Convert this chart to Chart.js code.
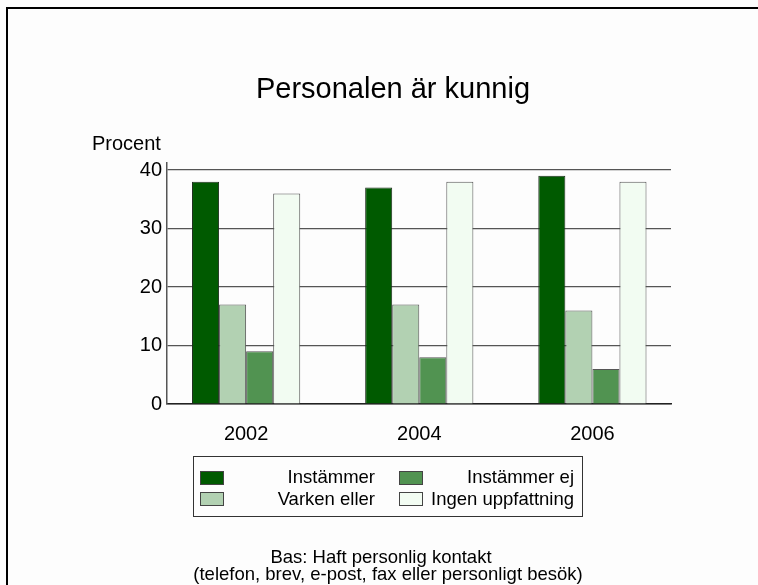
<!DOCTYPE html>
<html>
<head>
  <title>Personalen är kunnig</title>
  <script src="https://cdn.jsdelivr.net/npm/chart.js"></script>
  <style>
    body { margin: 0; padding: 0; background: #fdfdfd; }
    #wrap { width: 758px; height: 585px; position: relative; }
  </style>
</head>
<body>
  <div id="wrap"><canvas id="myChart" width="758" height="585"></canvas></div>
  <script>
    // --- DATA ---
    const years = [2002, 2004, 2006];
    const seriesNames = ['Instämmer', 'Varken eller', 'Instämmer ej', 'Ingen uppfattning'];
    const instammer    = [38, 37, 39];
    const varkenEller  = [17, 17, 16];
    const instammerEj  = [9, 8, 6];
    const ingenUppf    = [36, 38, 38];
    const yTicks = [0, 10, 20, 30, 40];

    const titleText = 'Personalen är kunnig';
    const yAxisTitle = 'Procent';
    const footerLines = ['Bas: Haft personlig kontakt', '(telefon, brev, e-post, fax eller personligt besök)'];

    // fill colours per series
    const fills = ['#005a00', '#b2d1b2', '#519351', '#f2fcf2'];
    const font = '"Liberation Sans", Arial, sans-serif';

    // extra drawing: frame, title, axis title, legend, footer
    const decor = {
      id: 'decor',
      beforeDraw(chart) {
        const c = chart.ctx;
        c.save();
        c.fillStyle = '#fdfdfd';
        c.fillRect(0, 0, chart.width, chart.height);
        c.strokeStyle = '#000';
        c.lineWidth = 2;
        c.beginPath();
        c.moveTo(7, chart.height);
        c.lineTo(7, 8);
        c.lineTo(chart.width, 8);
        c.stroke();
        c.restore();
      },
      afterDraw(chart) {
        const c = chart.ctx;
        c.save();
        c.fillStyle = '#000';
        c.textBaseline = 'alphabetic';

        // title
        c.font = '29px ' + font;
        c.textAlign = 'center';
        c.fillText(titleText, 393, 98);

        // y axis title
        c.font = '20px ' + font;
        c.textAlign = 'left';
        c.fillText(yAxisTitle, 92, 150);

        // legend box
        c.strokeStyle = '#333';
        c.lineWidth = 1;
        c.strokeRect(193.5, 456.5, 389, 60);
        c.font = '18.5px ' + font;
        c.textAlign = 'right';
        const colX = [200, 399];
        const textRight = [375, 574];
        const rowY = [471, 492];
        const baseY = [483, 505];
        chart.data.datasets.forEach((ds, i) => {
          const col = Math.floor(i / 2), row = i % 2;
          c.fillStyle = ds.backgroundColor;
          c.fillRect(colX[col], rowY[row], 23, 13);
          c.strokeStyle = '#444';
          c.strokeRect(colX[col] + 0.5, rowY[row] + 0.5, 23, 13);
          c.fillStyle = '#000';
          c.fillText(ds.label, textRight[col], baseY[row]);
        });

        // footer
        c.textAlign = 'center';
        c.font = '18.5px ' + font;
        c.fillText(footerLines[0], 381, 563);
        c.fillText(footerLines[1], 388, 580);
        c.restore();
      }
    };

    const ctx = document.getElementById('myChart').getContext('2d');
    const chart = new Chart(ctx, {
      type: 'bar',
      data: {
        labels: years,
        datasets: [instammer, varkenEller, instammerEj, ingenUppf].map((arr, i) => ({
          label: seriesNames[i],
          data: arr,
          backgroundColor: fills[i],
          borderColor: i === 0 ? '#1e2e1e' : '#555',
          borderWidth: 1,
          borderSkipped: 'bottom',
          categoryPercentage: 0.625,
          barPercentage: 1
        }))
      },
      options: {
        responsive: false,
        animation: false,
        layout: { padding: { top: 163, right: 87, left: 0, bottom: 0 } },
        plugins: {
          legend: { display: false },
          tooltip: { enabled: false },
          title: { display: false }
        },
        scales: {
          x: {
            type: 'linear',
            offset: false,
            min: 2001.086,
            max: 2006.908,
            afterFit(scale) { scale.height = 181; },
            afterBuildTicks(scale) { scale.ticks = years.map(v => ({ value: v })); },
            ticks: {
              color: '#000',
              font: { family: font, size: 20 },
              padding: 18,
              callback: v => String(v)
            },
            grid: { display: false, drawTicks: false },
            border: { display: true, color: '#222', width: 1.5 }
          },
          y: {
            min: 0,
            max: 41.2,
            afterFit(scale) { scale.width = 167; },
            afterBuildTicks(scale) { scale.ticks = yTicks.map(v => ({ value: v })); },
            ticks: {
              color: '#000',
              font: { family: font, size: 20 },
              padding: 5
            },
            grid: { color: '#555', lineWidth: 1.2, drawTicks: false },
            border: { display: true, color: '#555', width: 1.5 }
          }
        }
      },
      plugins: [decor]
    });
  </script>
</body>
</html>
